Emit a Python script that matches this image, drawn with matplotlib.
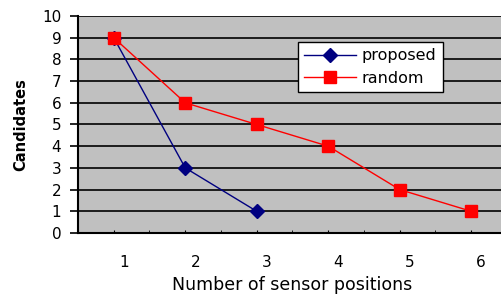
import matplotlib.pyplot as plt
from matplotlib.transforms import ScaledTranslation

positions = [1, 2, 3, 4, 5, 6]
proposed_x = [1, 2, 3]
proposed = [9, 3, 1]
random_vals = [9, 6, 5, 4, 2, 1]
y_ticks = list(range(0, 11))

plt.rcParams["font.family"] = ["DejaVu Sans"]

fig = plt.figure(figsize=(5.02, 2.96), dpi=100)
ax = fig.add_axes([78 / 502, 63 / 296, (507 - 78) / 502, (233 - 16) / 296])
ax.set_facecolor("#c0c0c0")

ax.plot(proposed_x, proposed, color="#000080", linewidth=1, marker="D",
        markersize=7, label="proposed", zorder=3)
ax.plot(positions, random_vals, color="#ff0000", linewidth=1, marker="s",
        markersize=9, label="random", zorder=4)

ax.set_xlim(0.5, 6.5)
ax.set_ylim(0, 10)
ax.set_yticks(y_ticks)
ax.yaxis.grid(True, color="black", linewidth=1.2)
ax.set_axisbelow(True)

ax.set_xticks(positions)
ax.set_xticks([p + 0.5 for p in positions], minor=True)
ax.tick_params(axis="x", which="both", direction="in", length=2, pad=16,
               labelsize=11)
ax.tick_params(axis="y", direction="out", length=6, width=1.2, labelsize=11,
               pad=6)
ax.set_xticklabels([str(p) for p in positions])
# labels sit a bit right of their ticks, like the original
for lbl in ax.get_xticklabels():
    lbl.set_transform(lbl.get_transform() + ScaledTranslation(0.1, 0, fig.dpi_scale_trans))

for side in ["top", "right"]:
    ax.spines[side].set_visible(False)
ax.spines["left"].set_linewidth(1.5)
ax.spines["bottom"].set_linewidth(1.5)

ax.set_xlabel("Number of sensor positions", fontsize=12.5, labelpad=4)
ax.set_ylabel("Candidates", fontsize=10.5, fontweight="bold", labelpad=10)

leg = ax.legend(loc="upper left", bbox_to_anchor=((298 - 78) / 429, (233 - 42) / 217),
                frameon=True, fancybox=False, edgecolor="black", facecolor="white",
                framealpha=1, fontsize=11.5, handlelength=3.2, borderpad=0.4,
                labelspacing=0.45, handletextpad=0.4, borderaxespad=0)
leg.get_frame().set_linewidth(1)

fig.savefig("out.png", dpi=100)
